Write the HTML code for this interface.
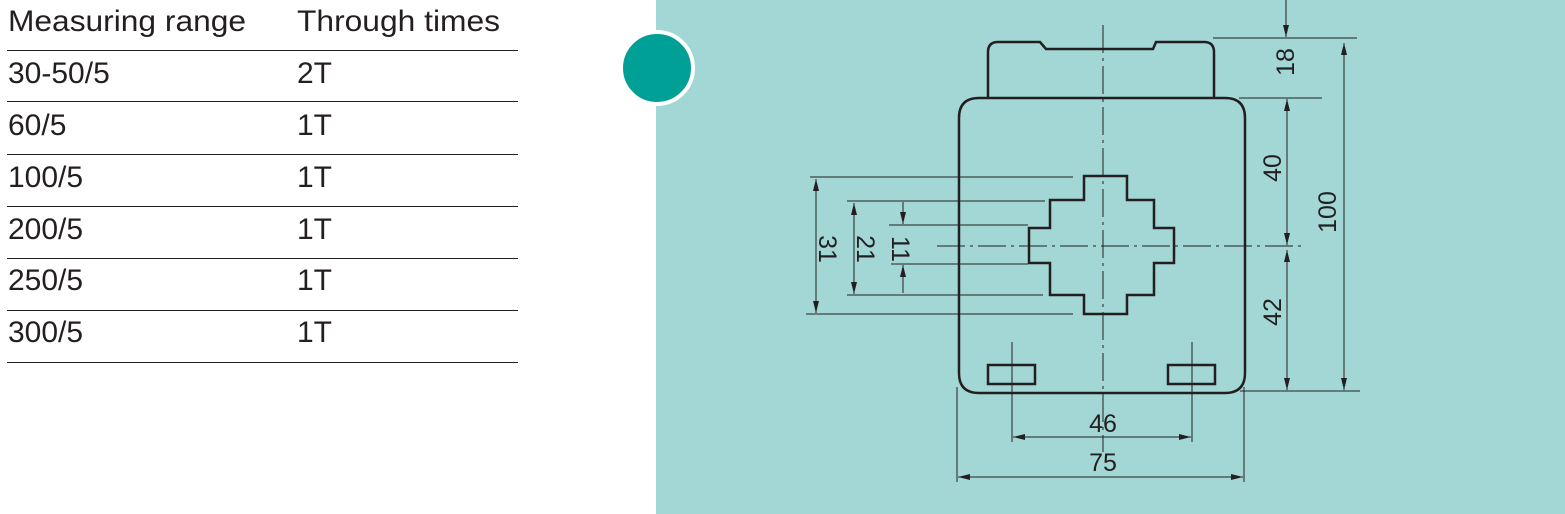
<!DOCTYPE html>
<html><head><meta charset="utf-8"><style>
html,body{margin:0;padding:0;background:#fff;}
svg{display:block;}
text{font-family:"Liberation Sans",sans-serif;fill:#231f20;}
</style></head><body>
<svg width="1565" height="514" viewBox="0 0 1565 514" xmlns="http://www.w3.org/2000/svg">
<defs>
<marker id="a" viewBox="0 0 12 6" refX="12" refY="3" markerWidth="12" markerHeight="6" orient="auto-start-reverse" markerUnits="userSpaceOnUse"><path d="M0,0 L12,3 L0,6 z" fill="#231f20"/></marker>
</defs>
<rect x="656" y="0" width="909" height="514" fill="#a3d7d5"/>
<circle cx="657" cy="68" r="36" fill="#00a096" stroke="#fff" stroke-width="4"/>
<g font-size="30">
<text x="8" y="31" textLength="238" lengthAdjust="spacingAndGlyphs">Measuring range</text>
<text x="297" y="31" textLength="203" lengthAdjust="spacingAndGlyphs">Through times</text>
<text x="8" y="83">30-50/5</text><text x="297" y="83">2T</text>
<text x="8" y="135">60/5</text><text x="297" y="135">1T</text>
<text x="8" y="187">100/5</text><text x="297" y="187">1T</text>
<text x="8" y="239">200/5</text><text x="297" y="239">1T</text>
<text x="8" y="290">250/5</text><text x="297" y="290">1T</text>
<text x="8" y="342">300/5</text><text x="297" y="342">1T</text>
</g>
<g stroke="#231f20" stroke-width="1">
<line x1="7" y1="50.5" x2="518" y2="50.5"/>
<line x1="7" y1="101.5" x2="518" y2="101.5"/>
<line x1="7" y1="154.5" x2="518" y2="154.5"/>
<line x1="7" y1="206.5" x2="518" y2="206.5"/>
<line x1="7" y1="258.5" x2="518" y2="258.5"/>
<line x1="7" y1="310.5" x2="518" y2="310.5"/>
<line x1="7" y1="362.5" x2="518" y2="362.5"/>
</g>
<g fill="none" stroke="#231f20" stroke-width="2.5" stroke-linejoin="miter">
<path d="M988,98 L988,52 Q988,42 998,42 L1040,42 L1046,49 L1153,49 L1156,42 L1204,42 Q1214,42 1214,52 L1214,98"/>
<path d="M979,98 L1225,98 Q1245,98 1245,118 L1245,373 Q1245,393 1225,393 L979,393 Q959,393 959,373 L959,118 Q959,98 979,98 Z"/>
<path d="M1084,176 L1127,176 L1127,200 L1154,200 L1154,228 L1174,228 L1174,263 L1154,263 L1154,295 L1127,295 L1127,314 L1084,314 L1084,295 L1050,295 L1050,263 L1029,263 L1029,228 L1050,228 L1050,200 L1084,200 Z"/>
<rect x="988" y="365" width="47" height="19"/>
<rect x="1168" y="365" width="47" height="19"/>
</g>
<g stroke="#231f20" stroke-width="1" fill="none">
<line x1="1103" y1="25" x2="1103" y2="452" stroke-dasharray="28,5,3,5"/>
<line x1="937" y1="246" x2="1302" y2="246" stroke-dasharray="28,5,3,5"/>
<line x1="1012" y1="342" x2="1012" y2="442"/>
<line x1="1192" y1="342" x2="1192" y2="442"/>
<line x1="810" y1="177" x2="1073" y2="177"/>
<line x1="806" y1="314" x2="1073" y2="314"/>
<line x1="847" y1="201" x2="1045" y2="201"/>
<line x1="847" y1="295" x2="1043" y2="295"/>
<line x1="889" y1="225" x2="1028" y2="225"/>
<line x1="891" y1="264" x2="1028" y2="264"/>
<line x1="816" y1="179" x2="816" y2="313" marker-start="url(#a)" marker-end="url(#a)"/>
<line x1="854" y1="203" x2="854" y2="294" marker-start="url(#a)" marker-end="url(#a)"/>
<line x1="903" y1="202" x2="903" y2="224" marker-end="url(#a)"/>
<line x1="903" y1="293" x2="903" y2="265" marker-end="url(#a)"/>
<line x1="1286" y1="0" x2="1286" y2="37" marker-end="url(#a)"/>
<line x1="1213" y1="38" x2="1357" y2="38"/>
<line x1="1239" y1="98" x2="1322" y2="98"/>
<line x1="1240" y1="391" x2="1360" y2="391"/>
<line x1="1287" y1="99" x2="1287" y2="245" marker-start="url(#a)" marker-end="url(#a)"/>
<line x1="1287" y1="250" x2="1287" y2="390" marker-start="url(#a)" marker-end="url(#a)"/>
<line x1="1344" y1="43" x2="1344" y2="390" marker-start="url(#a)" marker-end="url(#a)"/>
<line x1="957" y1="387" x2="957" y2="482"/>
<line x1="1244" y1="387" x2="1244" y2="482"/>
<line x1="1013" y1="437" x2="1191" y2="437" marker-start="url(#a)" marker-end="url(#a)"/>
<line x1="958" y1="477" x2="1243" y2="477" marker-start="url(#a)" marker-end="url(#a)"/>
</g>
<g font-size="25" text-anchor="middle">
<text x="1103" y="432">46</text>
<text x="1103" y="471">75</text>
<text transform="translate(1294,62) rotate(-90)">18</text>
<text transform="translate(1281,168) rotate(-90)">40</text>
<text transform="translate(1281,312) rotate(-90)">42</text>
<text transform="translate(1336,212) rotate(-90)">100</text>
<text transform="translate(819,249) rotate(90)">31</text>
<text transform="translate(857,249) rotate(90)">21</text>
<text transform="translate(892,249) rotate(90)">11</text>
</g>
</svg>
</body></html>
